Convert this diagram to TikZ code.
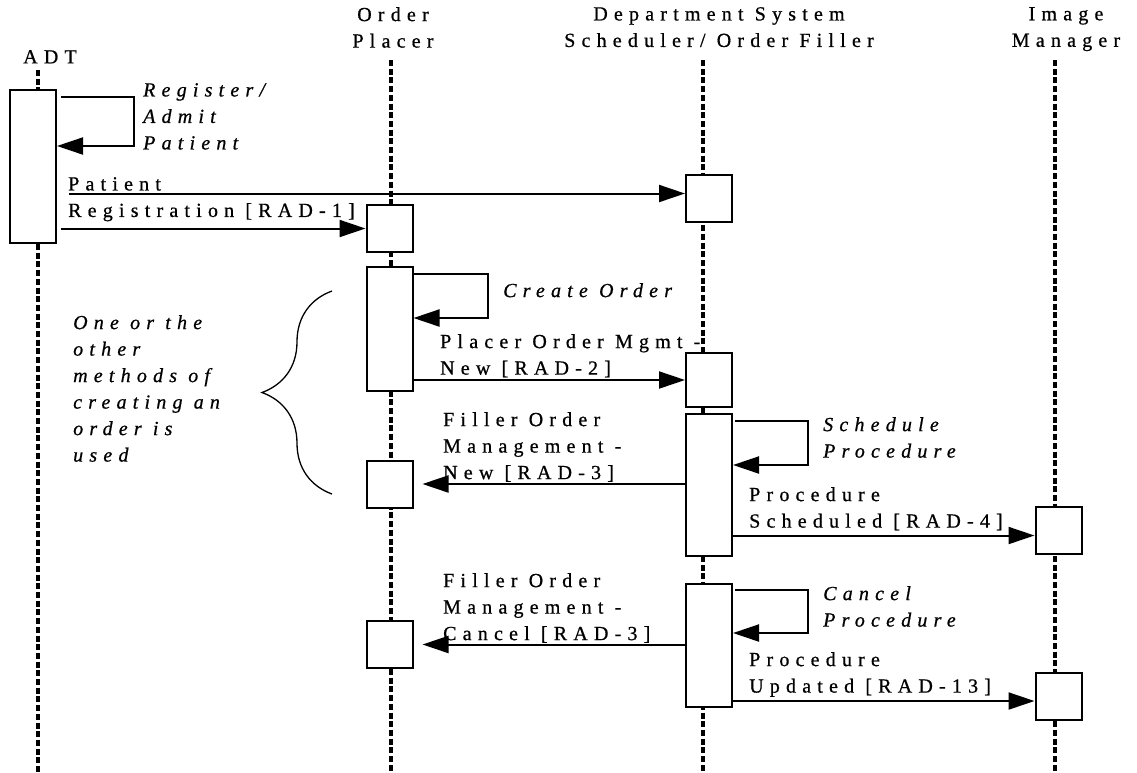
\documentclass[tikz,border=0pt]{standalone}
\usepackage{fontspec}
\setmainfont{Liberation Serif}[LetterSpace=31, FakeBold=0.7]
\usetikzlibrary{arrows.meta, positioning, calc, decorations.pathreplacing}
\newcommand{\seqfont}{\fontsize{20}{26.5}\selectfont}
\tikzset{
  % --- Tuan tu ----------------------------------------------
  seqhead/.style={align=center, font=\seqfont, inner sep=0pt, anchor=north},
  seqlife/.style={line width=3.3pt, dash pattern=on 6pt off 2.7pt},
  seqact/.style={draw, line width=2pt, fill=white, minimum width=46,
    minimum height=47, inner sep=0pt},
  seqmsg/.style={-{Triangle[length=26pt, width=17pt]}, line width=2pt},
  seqlab/.style={align=left, font=\seqfont, inner sep=0pt, anchor=north west},
  seqnote/.style={seqlab, font=\seqfont\itshape},
  seqbrace/.style={decorate, decoration={brace, amplitude=70pt},
    line width=1.3pt}
}
\begin{document}
\begin{tikzpicture}[x=1pt, y=-1pt]
  \useasboundingbox (0,0) rectangle (1137,772);

  % ---------- Doi tuong ----------
  \node[seqhead] (h1) at (50,50) {ADT};
  \node[seqhead] (h2) at (393,7) {Order\\Placer};
  \node[seqhead] (h3) at (719,7) {Department System\\Scheduler/ Order Filler};
  \node[seqhead] (h4) at (1066,7) {Image\\Manager};

  % ---------- Duong song ----------
  \coordinate (l1) at (38,70);
  \coordinate (l2) at (391,60);
  \coordinate (l3) at (703,60);
  \coordinate (l4) at (1055,60);
  \foreach \l in {l1,l2,l3,l4}
    \draw[seqlife] (\l) -- (\l |- 0,772);

  % ---------- Hop kich hoat ----------
  \node[seqact, minimum height=153] (a1) at (33,166.5) {};
  \node[seqact] (b1) at (389.5,228.5) {};
  \node[seqact, minimum height=124] (b2) at (389.5,329) {};
  \node[seqact] (b3) at (389.5,484) {};
  \node[seqact] (b4) at (389.5,644.5) {};
  \node[seqact] (c1) at (709,198.5) {};
  \node[seqact, minimum height=54] (c2) at (709,380) {};
  \node[seqact, minimum height=142] (c3) at (709,485) {};
  \node[seqact, minimum height=123] (c4) at (709,645.5) {};
  \node[seqact] (d1) at (1058.5,530.5) {};
  \node[seqact] (d2) at (1058.5,696) {};

  % ---------- Tu goi ----------
  \draw[seqmsg] ($(a1.north east)+(4,8)$) -- ++(73,0) -- ++(0,49)
    -- ($(a1.north east)+(0,57)$);
  \node[seqnote] (n1) at (143,83) {Register/\\Admit\\Patient};
  \draw[seqmsg] ($(b2.north east)+(0,8)$) -- ++(74,0) -- ++(0,44)
    -- ($(b2.north east)+(0,52)$);
  \node[seqnote] (n2) at (503,283) {Create Order};
  \draw[seqmsg] ($(c3.north east)+(2,8)$) -- ++(73,0) -- ++(0,44)
    -- ($(c3.north east)+(0,52)$);
  \node[seqnote] (n3) at (823,417) {Schedule\\Procedure};
  \draw[seqmsg] ($(c4.north east)+(2,7)$) -- ++(73,0) -- ++(0,43)
    -- ($(c4.north east)+(0,50)$);
  \node[seqnote] (n4) at (823,586) {Cancel\\Procedure};

  % ---------- Thong diep ----------
  \draw[seqmsg] ($(a1.east |- c1.west)+(12,-5)$) -- ($(c1.west)+(0,-5)$);
  \draw[seqmsg] ($(a1.east |- b1.west)+(4,0)$) -- (b1.west);
  \node[seqlab] (m1) at (68,177) {Patient\\Registration [RAD-1]};

  \draw[seqmsg] (b2.east |- c2.west) -- (c2.west);
  \node[seqlab] (m2) at (440,334) {Placer Order Mgmt -\\New [RAD-2]};

  \draw[seqmsg] (c3.west |- b3.east) -- ($(b3.east)+(9,0)$);
  \node[seqlab] (m3) at (443,412) {Filler Order\\Management -\\New [RAD-3]};

  \draw[seqmsg] ($(c3.east |- d1.west)+(0,5)$) -- ($(d1.west)+(0,5)$);
  \node[seqlab] (m4) at (749,487) {Procedure\\Scheduled [RAD-4]};

  \draw[seqmsg] (c4.west |- b4.east) -- ($(b4.east)+(9,0)$);
  \node[seqlab] (m5) at (443,573) {Filler Order\\Management -\\Cancel [RAD-3]};

  \draw[seqmsg] ($(c4.east |- d2.west)+(0,5)$) -- ($(d2.west)+(0,5)$);
  \node[seqlab] (m6) at (749,652) {Procedure\\Updated [RAD-13]};

  % ---------- Ghi chu ----------
  \coordinate (g1) at (332,494);
  \coordinate (g2) at (332,291);
  \draw[seqbrace] (g1) -- (g2);
  \node[seqnote] (n5) at (73,315)
    {One or the\\other\\methods of\\creating an\\order is\\used};

\end{tikzpicture}
\end{document}
